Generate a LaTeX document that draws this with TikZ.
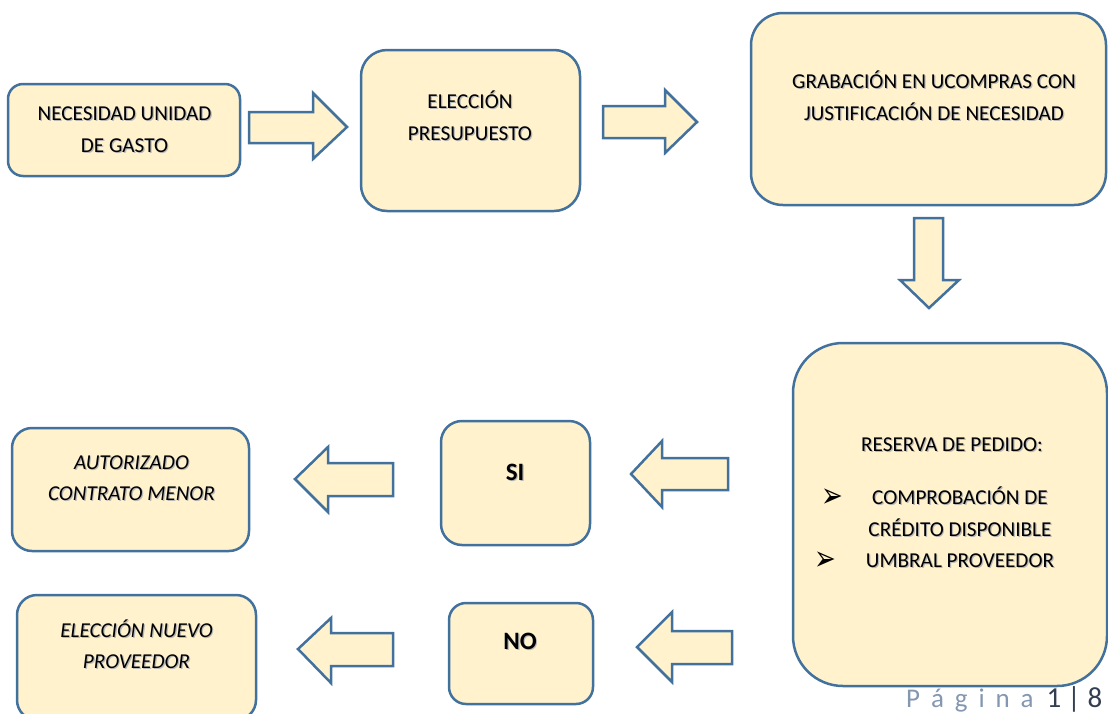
\documentclass[tikz,border=0pt]{standalone}
\usepackage{graphicx}
\usepackage{fontspec}
\setmainfont{Carlito}
\newfontfamily\dejavu{DejaVu Sans}
\definecolor{bord}{HTML}{41719C}
\definecolor{fillc}{HTML}{FFF2CC}
\definecolor{pgray}{HTML}{8497B0}
\definecolor{pdark}{HTML}{333F50}
\newcommand\shd[1]{\strut\rlap{\raisebox{-1.2pt}{\kern1.2pt\textcolor{black!28}{#1}}}#1}
\begin{document}
\begin{tikzpicture}[x=1pt,y=-1pt,
  box/.style={draw=bord,fill=fillc,line width=2.5pt,rounded corners=#1,inner sep=0pt},
  blockarrow/.style={draw=bord,fill=fillc,line width=2.5pt,line join=miter},
  txt/.style={font=\fontsize{21.2}{31.5}\selectfont,align=center,inner sep=0pt},
  itxt/.style={font=\fontsize{21.2}{31.5}\selectfont\itshape,align=center,inner sep=0pt},
  btxt/.style={font=\fontsize{25}{30}\selectfont\bfseries,align=center,inner sep=0pt},
  bul/.style={font=\dejavu\fontsize{26}{28}\selectfont,inner sep=0pt}]
\useasboundingbox (0,0) rectangle (1108,713);
% boxes
\node[box=15pt,minimum width=232pt,minimum height=92pt] (b1) at (124,130) {};
\node[box=26pt,minimum width=219pt,minimum height=161pt] (b2) at (470.5,130.5) {};
\node[box=32pt,minimum width=355pt,minimum height=192pt] (b3) at (928.5,109) {};
\node[box=50pt,minimum width=314pt,minimum height=343pt] (b4) at (950,514.5) {};
\node[box=21pt,minimum width=149pt,minimum height=124pt] (si) at (515.5,483) {};
\node[box=17pt,minimum width=144pt,minimum height=101pt] (no) at (521,653.5) {};
\node[box=20pt,minimum width=237pt,minimum height=123pt] (aut) at (130.5,489.5) {};
\node[box=20pt,minimum width=239pt,minimum height=125pt] (nuevo) at (136.5,657.5) {};
% texts
\node[txt] (t1) at (124.5,130) {\shd{NECESIDAD UNIDAD}\\\shd{DE GASTO}};
\node[txt] (t2) at (470,118) {\shd{ELECCIÓN}\\\shd{PRESUPUESTO}};
\node[txt] (t3) at (934,98) {\shd{GRABACIÓN EN UCOMPRAS CON}\\\shd{JUSTIFICACIÓN DE NECESIDAD}};
\node[txt] (t4) at (952,445) {\shd{RESERVA DE PEDIDO:}};
\node[txt] (t5) at (960,514) {\shd{COMPROBACIÓN DE}\\\shd{CRÉDITO DISPONIBLE}};
\node[txt] (t6) at (960,561) {\shd{UMBRAL PROVEEDOR}};
\node[bul] (u1) at (832,498) {\scalebox{1}[1.35]{➢}};
\node[bul] (u2) at (825,561) {\scalebox{1}[1.35]{➢}};
\node[btxt] (tsi) at (515,474) {\shd{SI}};
\node[btxt] (tno) at (520,643) {\shd{NO}};
\node[itxt] (ta) at (131.5,478.5) {\shd{AUTORIZADO}\\\shd{CONTRATO MENOR}};
\node[itxt] (tn) at (136.5,646.5) {\shd{ELECCIÓN NUEVO}\\\shd{PROVEEDOR}};
% block arrows
\draw[blockarrow] (249,112) -- (313,112) -- (313,93) -- (347,127) -- (313,159) -- (313,143) -- (249,143) -- cycle;
\draw[blockarrow] (603,106) -- (665,106) -- (665,90) -- (697,122) -- (665,153) -- (665,138) -- (603,138) -- cycle;
\draw[blockarrow] (914,218) -- (943,218) -- (943,280) -- (959,280) -- (929,308) -- (900,280) -- (914,280) -- cycle;
\draw[blockarrow] (728,458) -- (662,458) -- (662,441) -- (631,474) -- (662,507) -- (662,490) -- (728,490) -- cycle;
\draw[blockarrow] (393,463) -- (328,463) -- (328,447) -- (295,479) -- (328,512) -- (328,496) -- (393,496) -- cycle;
\draw[blockarrow] (732,631) -- (672,631) -- (672,612) -- (637,647) -- (672,682) -- (672,664) -- (732,664) -- cycle;
\draw[blockarrow] (393,633) -- (331,633) -- (331,618) -- (298,649) -- (331,683) -- (331,666) -- (393,666) -- cycle;
% page number
\node[anchor=base west,inner sep=0pt,font=\fontsize{27}{30}\selectfont] (pg) at (906,707) {\textcolor{pgray}{P\kern10.9pt á\kern10.9pt g\kern10.9pt i\kern10.9pt n\kern10.9pt a}\kern13pt\textcolor{pdark}{\fontsize{29}{30}\selectfont 1\kern6pt|\kern7pt8}};
\end{tikzpicture}
\end{document}
